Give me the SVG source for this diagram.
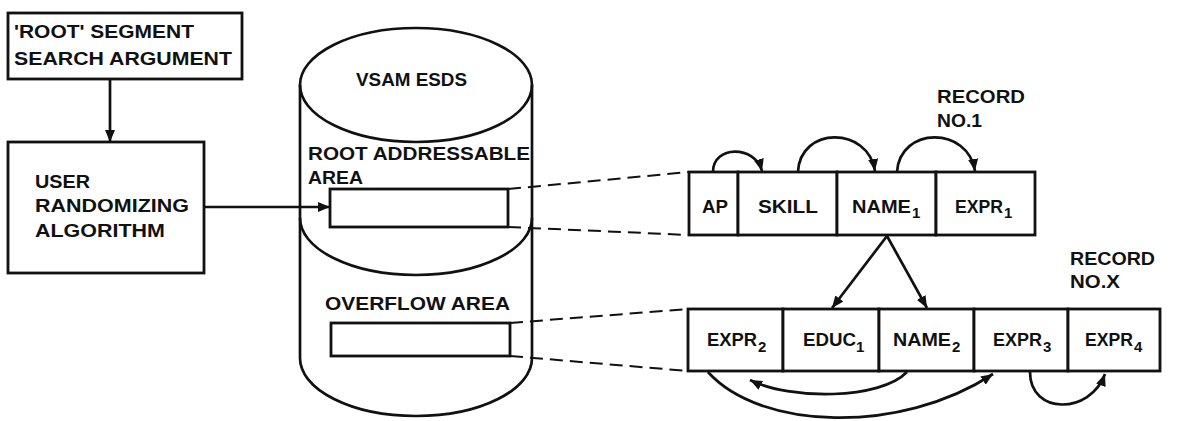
<svg xmlns="http://www.w3.org/2000/svg" width="1181" height="421" viewBox="0 0 1181 421">
<style>
.ln{fill:none;stroke:#111;stroke-width:2.7}
.bx{fill:#fff;stroke:#111;stroke-width:2.8}
.ds{fill:none;stroke:#111;stroke-width:2;stroke-dasharray:13 7}
.t{font-family:"Liberation Sans",Arial,Helvetica,sans-serif;font-weight:bold;font-size:18.5px;fill:#111}
.s{font-family:"Liberation Sans",Arial,Helvetica,sans-serif;font-weight:bold;font-size:15px;fill:#111}
</style>
<defs>
<marker id="ah" markerUnits="userSpaceOnUse" viewBox="0 0 12 10" refX="12" refY="5" markerWidth="12" markerHeight="10" orient="auto">
<path d="M0,0 L12,5 L0,10 z" fill="#111"/>
</marker>
</defs>
<rect width="1181" height="421" fill="#fff"/>

<g id="ssa">
<rect class="bx" x="8" y="13" width="234" height="66"/>
<text class="t" x="14" y="38" textLength="180" lengthAdjust="spacingAndGlyphs">'ROOT' SEGMENT</text>
<text class="t" x="14" y="65" textLength="218" lengthAdjust="spacingAndGlyphs">SEARCH ARGUMENT</text>
</g>

<g id="randomizer">
<rect class="bx" x="8" y="142" width="196" height="131"/>
<text class="t" x="35" y="188" textLength="55" lengthAdjust="spacingAndGlyphs">USER</text>
<text class="t" x="35" y="212" textLength="154" lengthAdjust="spacingAndGlyphs">RANDOMIZING</text>
<text class="t" x="35" y="237" textLength="130" lengthAdjust="spacingAndGlyphs">ALGORITHM</text>
</g>

<g id="vsam">
<ellipse class="ln" cx="416" cy="85" rx="116" ry="57"/>
<path class="ln" d="M300,85 L300,358 A116,58 0 0 0 532,358 L532,85"/>
<path class="ln" d="M300,218 A116,57 0 0 0 532,218"/>
<text class="t" x="356" y="86" textLength="111" lengthAdjust="spacingAndGlyphs">VSAM ESDS</text>
<text class="t" x="308" y="160" textLength="222" lengthAdjust="spacingAndGlyphs">ROOT ADDRESSABLE</text>
<text class="t" x="308" y="184" textLength="55" lengthAdjust="spacingAndGlyphs">AREA</text>
<text class="t" x="325" y="310" textLength="185" lengthAdjust="spacingAndGlyphs">OVERFLOW AREA</text>
</g>

<g id="root-slot">
<rect class="bx" x="330" y="189" width="178" height="38"/>
</g>

<g id="overflow-slot">
<rect class="bx" x="331" y="323" width="179" height="33"/>
</g>

<g id="record1">
<rect class="bx" x="689" y="172" width="49" height="63"/>
<rect class="bx" x="738" y="172" width="99" height="63"/>
<rect class="bx" x="837" y="172" width="99" height="63"/>
<rect class="bx" x="936" y="172" width="99" height="63"/>
<text class="t" x="702" y="213" textLength="26" lengthAdjust="spacingAndGlyphs">AP</text>
<text class="t" x="758" y="213" textLength="60" lengthAdjust="spacingAndGlyphs">SKILL</text>
<text class="t" x="852" y="213" textLength="59" lengthAdjust="spacingAndGlyphs">NAME</text>
<text class="s" x="912" y="218">1</text>
<text class="t" x="955" y="213" textLength="48" lengthAdjust="spacingAndGlyphs">EXPR</text>
<text class="s" x="1004" y="218">1</text>
<text class="t" x="937" y="103" textLength="88" lengthAdjust="spacingAndGlyphs">RECORD</text>
<text class="t" x="937" y="127" textLength="45" lengthAdjust="spacingAndGlyphs">NO.1</text>
</g>

<g id="recordX">
<rect class="bx" x="688" y="309" width="95" height="62"/>
<rect class="bx" x="783" y="309" width="96" height="62"/>
<rect class="bx" x="879" y="309" width="95" height="62"/>
<rect class="bx" x="974" y="309" width="94" height="62"/>
<rect class="bx" x="1068" y="309" width="92" height="62"/>
<text class="t" x="707" y="346" textLength="50" lengthAdjust="spacingAndGlyphs">EXPR</text>
<text class="s" x="758" y="352">2</text>
<text class="t" x="803" y="346" textLength="53" lengthAdjust="spacingAndGlyphs">EDUC</text>
<text class="s" x="856" y="352">1</text>
<text class="t" x="893" y="346" textLength="58" lengthAdjust="spacingAndGlyphs">NAME</text>
<text class="s" x="952" y="352">2</text>
<text class="t" x="993" y="346" textLength="49" lengthAdjust="spacingAndGlyphs">EXPR</text>
<text class="s" x="1043" y="352">3</text>
<text class="t" x="1085" y="346" textLength="48" lengthAdjust="spacingAndGlyphs">EXPR</text>
<text class="s" x="1134" y="352">4</text>
<text class="t" x="1070" y="265" textLength="85" lengthAdjust="spacingAndGlyphs">RECORD</text>
<text class="t" x="1070" y="288" textLength="50" lengthAdjust="spacingAndGlyphs">NO.X</text>
</g>

<g id="connectors">
<line class="ln" x1="110" y1="79" x2="110" y2="142" marker-end="url(#ah)"/>
<line class="ln" x1="204" y1="207" x2="330" y2="207" marker-end="url(#ah)"/>
<line class="ds" x1="508" y1="189" x2="689" y2="172"/>
<line class="ds" x1="508" y1="227" x2="689" y2="235"/>
<line class="ds" x1="510" y1="323" x2="688" y2="309"/>
<line class="ds" x1="510" y1="356" x2="688" y2="371"/>
<path class="ln" d="M713,172 C713,145 755,145 762,171" marker-end="url(#ah)"/>
<path class="ln" d="M798,172 C800,126 868,126 875,171" marker-end="url(#ah)"/>
<path class="ln" d="M897,172 C900,126 968,126 975,171" marker-end="url(#ah)"/>
<line class="ln" x1="887" y1="236" x2="832" y2="308" marker-end="url(#ah)"/>
<line class="ln" x1="887" y1="236" x2="927" y2="308" marker-end="url(#ah)"/>
<path class="ln" d="M907,372 C880,400 790,400 750,380" marker-end="url(#ah)"/>
<path class="ln" d="M708,372 C760,430 900,435 993,374" marker-end="url(#ah)"/>
<path class="ln" d="M1030,372 C1030,415 1090,415 1105,374" marker-end="url(#ah)"/>
</g>
</svg>
